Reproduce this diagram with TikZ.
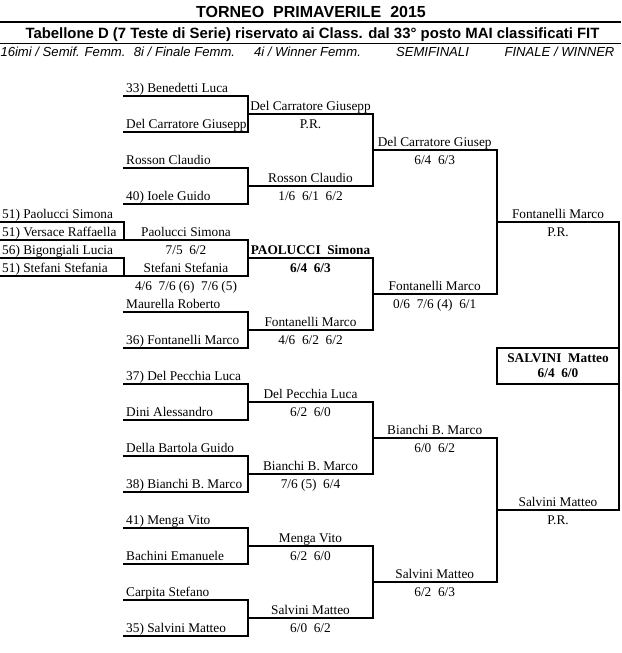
\documentclass[tikz,border=0pt]{standalone}
\usepackage{fontspec}
\setmainfont{Liberation Serif}
\newfontfamily\arialf{Liberation Sans}
\begin{document}
\begin{tikzpicture}[x=1pt,y=-1pt,
  nm/.style={font=\fontsize{13.3}{15}\selectfont, inner sep=0pt, anchor=base west},
  cn/.style={font=\fontsize{13.3}{15}\selectfont, inner sep=0pt, anchor=base},
  cb/.style={font=\fontsize{13.3}{15}\selectfont\bfseries, inner sep=0pt, anchor=base},
  hd/.style={font=\arialf\itshape\fontsize{13.1}{15}\selectfont, inner sep=0pt, anchor=base},
  ln/.style={line width=2pt, line join=miter, line cap=rect}]
\useasboundingbox (0,0) rectangle (621,653);
\fill[white] (0,0) rectangle (621,653);
% titles
\node[font=\arialf\bfseries\fontsize{16}{18}\selectfont, inner sep=0pt, anchor=base] (title) at (311,17.5) {TORNEO\ \ PRIMAVERILE\ \ 2015};
\node[font=\arialf\bfseries\fontsize{14.9}{17}\selectfont, inner sep=0pt, anchor=base] (sub) at (312.5,38.5) {Tabellone D (7 Teste di Serie) riservato ai Class. dal 33° posto MAI classificati FIT};
\draw[line width=2pt] (0,21.5) -- (621,21.5);
\draw[line width=1.3pt] (0,43.5) -- (621,43.5);
\node[hd] (h1) at (63,56.5) {16imi / Semif. Femm.};
\node[hd] (h2) at (184.5,56.5) {8i / Finale Femm.};
\node[hd] (h3) at (307.5,56.5) {4i / Winner Femm.};
\node[hd] (h4) at (432.5,56.5) {SEMIFINALI};
\node[hd] (h5) at (559.5,56.5) {FINALE / WINNER};
% women's first round
\node[nm] (w1) at (2,218.5) {51) Paolucci Simona};
\node[nm] (w2) at (2,236.5) {51) Versace Raffaella};
\node[nm] (w3) at (2,254.5) {56) Bigongiali Lucia};
\node[nm] (w4) at (2,272.5) {51) Stefani Stefania};
% first round (men)
\node[nm] (a1) at (126,92.5) {33) Benedetti Luca};
\node[nm] (a2) at (126,128.5) {Del Carratore Giusepp};
\node[nm] (a3) at (126,164.5) {Rosson Claudio};
\node[nm] (a4) at (126,200.5) {40) Ioele Guido};
\node[nm] (a5) at (126,308.5) {Maurella Roberto};
\node[nm] (a6) at (126,344.5) {36) Fontanelli Marco};
\node[nm] (a7) at (126,380.5) {37) Del Pecchia Luca};
\node[nm] (a8) at (126,416.5) {Dini Alessandro};
\node[nm] (a9) at (126,452.5) {Della Bartola Guido};
\node[nm] (a10) at (126,488.5) {38) Bianchi B. Marco};
\node[nm] (a11) at (126,524.5) {41) Menga Vito};
\node[nm] (a12) at (126,560.5) {Bachini Emanuele};
\node[nm] (a13) at (126,596.5) {Carpita Stefano};
\node[nm] (a14) at (126,632.5) {35) Salvini Matteo};
% women's semifinal
\node[cn] (ws1) at (186,236.5) {Paolucci Simona};
\node[cn] (ws2) at (186,254.5) {7/5\ \ 6/2};
\node[cn] (ws3) at (186,272.5) {Stefani Stefania};
\node[cn] (ws4) at (186,290.5) {4/6\ \ 7/6 (6)\ \ 7/6 (5)};
% second round
\node[cn] (b1) at (310.5,110.5) {Del Carratore Giusepp};
\node[cn] (b1s) at (310.5,128.5) {P.R.};
\node[cn] (b2) at (310.5,182.5) {Rosson Claudio};
\node[cn] (b2s) at (310.5,200.5) {1/6\ \ 6/1\ \ 6/2};
\node[cb] (wf) at (310.5,254.5) {PAOLUCCI\ \ Simona};
\node[cb] (wfs) at (310.5,272.5) {6/4\ \ 6/3};
\node[cn] (b3) at (310.5,326.5) {Fontanelli Marco};
\node[cn] (b3s) at (310.5,344.5) {4/6\ \ 6/2\ \ 6/2};
\node[cn] (b4) at (310.5,398.5) {Del Pecchia Luca};
\node[cn] (b4s) at (310.5,416.5) {6/2\ \ 6/0};
\node[cn] (b5) at (310.5,470.5) {Bianchi B. Marco};
\node[cn] (b5s) at (310.5,488.5) {7/6 (5)\ \ 6/4};
\node[cn] (b6) at (310.5,542.5) {Menga Vito};
\node[cn] (b6s) at (310.5,560.5) {6/2\ \ 6/0};
\node[cn] (b7) at (310.5,614.5) {Salvini Matteo};
\node[cn] (b7s) at (310.5,632.5) {6/0\ \ 6/2};
% semifinals
\node[cn] (c1) at (434.7,146.5) {Del Carratore Giusep};
\node[cn] (c1s) at (434.7,164.5) {6/4\ \ 6/3};
\node[cn] (c2) at (434.7,290.5) {Fontanelli Marco};
\node[cn] (c2s) at (434.7,308.5) {0/6\ \ 7/6 (4)\ \ 6/1};
\node[cn] (c3) at (434.7,434.5) {Bianchi B. Marco};
\node[cn] (c3s) at (434.7,452.5) {6/0\ \ 6/2};
\node[cn] (c4) at (434.7,578.5) {Salvini Matteo};
\node[cn] (c4s) at (434.7,596.5) {6/2\ \ 6/3};
% final
\node[cn] (d1) at (558,218.5) {Fontanelli Marco};
\node[cn] (d1s) at (558,236.5) {P.R.};
\node[cn] (d2) at (558,506.5) {Salvini Matteo};
\node[cn] (d2s) at (558,524.5) {P.R.};
\node[cb] (win) at (558,362.5) {SALVINI\ \ Matteo};
\node[cb] (wins) at (558,377) {6/4\ \ 6/0};
% bracket lines
\begin{scope}[ln]
% women
\draw (0,222) -- (124,222) -- (124,240);
\draw (0,240) -- (248,240);
\draw (0,258) -- (124,258) -- (124,276);
\draw (0,276) -- (248,276);
\draw (248,240) -- (248,276);
\draw (248,258) -- (372.6,258) -- (372.6,330) -- (248,330);
% first round
\draw (124,96) -- (248,96) -- (248,132) -- (124,132);
\draw (124,168) -- (248,168) -- (248,204) -- (124,204);
\draw (124,312) -- (248,312) -- (248,348) -- (124,348);
\draw (124,384) -- (248,384) -- (248,420) -- (124,420);
\draw (124,456) -- (248,456) -- (248,492) -- (124,492);
\draw (124,528) -- (248,528) -- (248,564) -- (124,564);
\draw (124,600) -- (248,600) -- (248,636) -- (124,636);
% second round
\draw (248,114) -- (372.6,114) -- (372.6,186) -- (248,186);
\draw (248,402) -- (372.6,402) -- (372.6,474) -- (248,474);
\draw (248,546) -- (372.6,546) -- (372.6,618) -- (248,618);
% semifinals
\draw (372.6,150) -- (496.8,150) -- (496.8,294) -- (372.6,294);
\draw (372.6,438) -- (496.8,438) -- (496.8,582) -- (372.6,582);
% final
\draw (496.8,222) -- (619,222) -- (619,510) -- (496.8,510);
\draw (496.8,348) rectangle (619,384);
\end{scope}
\end{tikzpicture}
\end{document}
